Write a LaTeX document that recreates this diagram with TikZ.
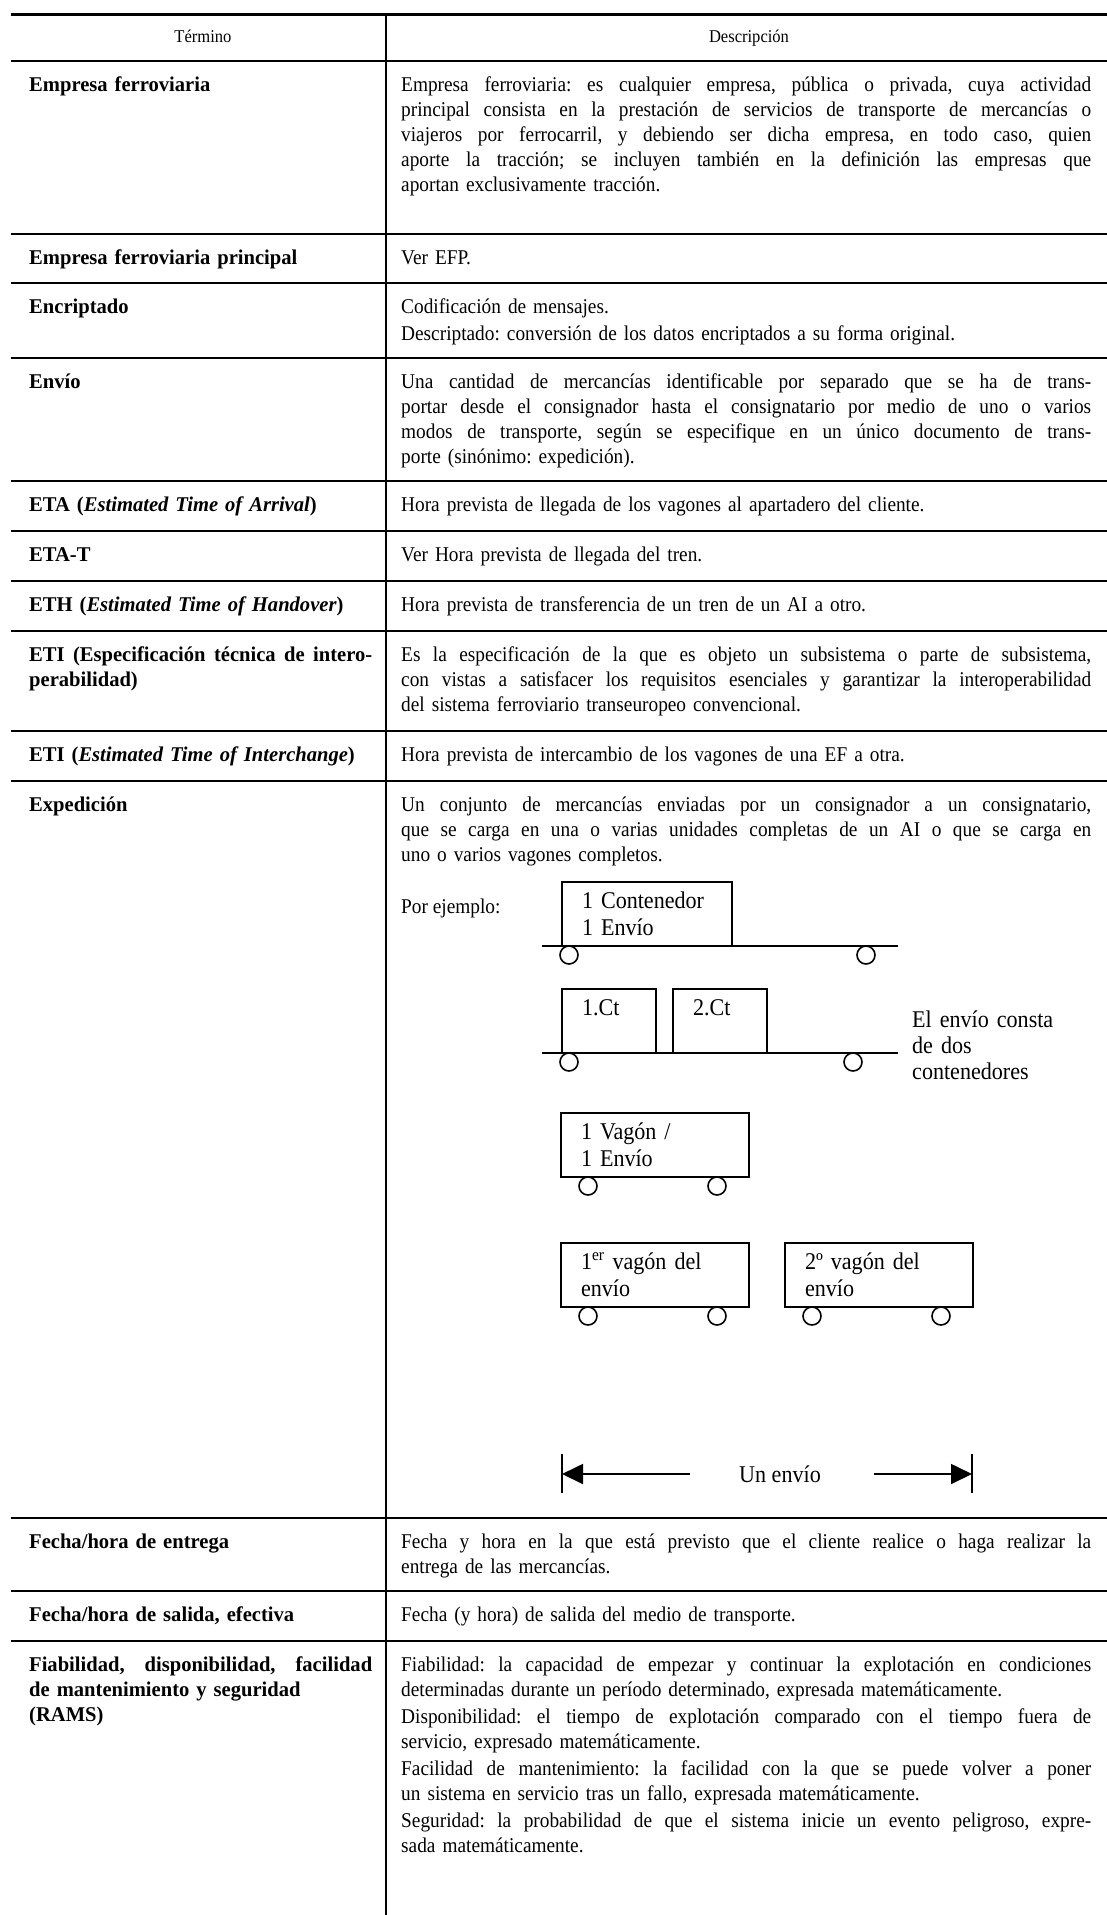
\documentclass[tikz,border=0pt]{standalone}
\usepackage{fontspec}
\setmainfont{Liberation Serif}[FakeStretch=0.92]
\newfontfamily\termfont{Liberation Serif}[FakeStretch=0.98]
\usetikzlibrary{arrows.meta}
\newcommand\JD[1]{\makebox[690pt][s]{\spaceskip=0pt\xspaceskip=0pt #1}}
\newcommand\JT[1]{\makebox[343pt][s]{\spaceskip=0pt\xspaceskip=0pt #1}}
\begin{document}
\frenchspacing
\begin{tikzpicture}[x=1pt,y=-1pt,
  hrule/.style={line width=2.4pt},
  toprule/.style={line width=3pt},
  vrule/.style={line width=2pt},
  term/.style={anchor=base west, inner sep=0pt, text width=343pt, align=left, font=\termfont\bfseries\fontsize{21}{25}\selectfont},
  desc/.style={anchor=base west, inner sep=0pt, text width=690pt, align=left, font=\fontsize{21}{25}\selectfont},
  hdr/.style={anchor=base, inner sep=0pt, font=\fontsize{18}{20}\selectfont},
  wagon/.style={draw, line width=1.8pt, inner xsep=20pt, inner ysep=0pt, align=left, minimum height=64pt, font=\fontsize{24}{27}\selectfont},
  wheel/.style={draw, circle, line width=1.6pt, minimum size=18pt, inner sep=0pt},
  plat/.style={line width=1.8pt},
  dtext/.style={anchor=base west, inner sep=0pt, text width=200pt, align=left, font=\fontsize{24}{26}\selectfont},
  arr/.style={line width=1.8pt, -{Triangle[length=21pt,width=20pt]}}
]
\useasboundingbox (0,0) rectangle (1107,1915);
\fill[white] (0,0) rectangle (1107,1915);

% table rules
\draw[toprule] (11,14.5) -- (1107,14.5);
\foreach \yy in {61,234,283,358,481,531,581,631,731,781,1518,1591,1641}
  \draw[hrule] (11,\yy) -- (1107,\yy);
\draw[vrule] (386,14) -- (386,1915);

% header
\node[hdr] (hT) at (203,42) {Término};
\node[hdr] (hD) at (749,42) {Descripción};

% R1
\node[term] (t1) at (29,91) {Empresa ferroviaria};
\node[desc] (d1) at (401,91) {\JD{Empresa ferroviaria: es cualquier empresa, pública o privada, cuya actividad}\\
\JD{principal consista en la prestación de servicios de transporte de mercancías o}\\
\JD{viajeros por ferrocarril, y debiendo ser dicha empresa, en todo caso, quien}\\
\JD{aporte la tracción; se incluyen también en la definición las empresas que}\\
aportan exclusivamente tracción.};

% R2
\node[term] (t2) at (29,264) {Empresa ferroviaria principal};
\node[desc] (d2) at (401,264) {Ver EFP.};

% R3
\node[term] (t3) at (29,313) {Encriptado};
\node[desc] (d3) at (401,313) {Codificación de mensajes.\\[2pt]
Descriptado: conversión de los datos encriptados a su forma original.};

% R4
\node[term] (t4) at (29,388) {Envío};
\node[desc] (d4) at (401,388) {\JD{Una cantidad de mercancías identificable por separado que se ha de trans-}\\
\JD{portar desde el consignador hasta el consignatario por medio de uno o varios}\\
\JD{modos de transporte, según se especifique en un único documento de trans-}\\
porte (sinónimo: expedición).};

% R5
\node[term] (t5) at (29,511) {ETA (\textit{Estimated Time of Arrival})};
\node[desc] (d5) at (401,511) {Hora prevista de llegada de los vagones al apartadero del cliente.};

% R6
\node[term] (t6) at (29,561) {ETA-T};
\node[desc] (d6) at (401,561) {Ver Hora prevista de llegada del tren.};

% R7
\node[term] (t7) at (29,611) {ETH (\textit{Estimated Time of Handover})};
\node[desc] (d7) at (401,611) {Hora prevista de transferencia de un tren de un AI a otro.};

% R8
\node[term] (t8) at (29,661) {\JT{ETI (Especificación técnica de intero-}\\perabilidad)};
\node[desc] (d8) at (401,661) {\JD{Es la especificación de la que es objeto un subsistema o parte de subsistema,}\\
\JD{con vistas a satisfacer los requisitos esenciales y garantizar la interoperabilidad}\\
del sistema ferroviario transeuropeo convencional.};

% R9
\node[term] (t9) at (29,761) {ETI (\textit{Estimated Time of Interchange})};
\node[desc] (d9) at (401,761) {Hora prevista de intercambio de los vagones de una EF a otra.};

% R10
\node[term] (t10) at (29,811) {Expedición};
\node[desc] (d10) at (401,811) {\JD{Un conjunto de mercancías enviadas por un consignador a un consignatario,}\\
\JD{que se carga en una o varias unidades completas de un AI o que se carga en}\\
uno o varios vagones completos.};
\node[anchor=base west, inner sep=0pt, font=\fontsize{21}{25}\selectfont] (pe) at (401,913) {Por ejemplo:};

% diagram: row A
\node[wagon, minimum width=170pt, text width=130pt] (boxA) at (647,914) {1 Contenedor\\1 Envío};
\coordinate (pA1) at (542,946);
\coordinate (pA2) at (898,946);
\draw[plat] (pA1) -- (pA2);
\node[wheel] (wA1) at (569,955) {};
\node[wheel] (wA2) at (866,955) {};

% row B
\node[wagon, minimum width=94pt, text width=54pt] (boxB1) at (609,1021) {1.Ct\\\mbox{}};
\node[wagon, minimum width=94pt, text width=54pt] (boxB2) at (720,1021) {2.Ct\\\mbox{}};
\coordinate (pB1) at (542,1053);
\coordinate (pB2) at (898,1053);
\draw[plat] (pB1) -- (pB2);
\node[wheel] (wB1) at (569,1062) {};
\node[wheel] (wB2) at (853,1062) {};
\node[dtext] (cons) at (912,1027) {El envío consta\\de dos\\contenedores};

% row C
\node[wagon, minimum width=188pt, text width=148pt] (boxC) at (655,1145) {1 Vagón /\\1 Envío};
\node[wheel] (wC1) at (588,1186) {};
\node[wheel] (wC2) at (717,1186) {};

% row D
\node[wagon, minimum width=188pt, text width=148pt] (boxD1) at (655,1275) {1\textsuperscript{er} vagón del\\envío};
\node[wagon, minimum width=188pt, text width=148pt] (boxD2) at (879,1275) {2º vagón del\\envío};
\node[wheel] (wD1) at (588,1316) {};
\node[wheel] (wD2) at (717,1316) {};
\node[wheel] (wD3) at (812,1316) {};
\node[wheel] (wD4) at (941,1316) {};

% span arrow
\coordinate (tkL1) at (562,1454);
\coordinate (tkL2) at (562,1493);
\coordinate (tkR1) at (972,1454);
\coordinate (tkR2) at (972,1493);
\draw[plat] (tkL1) -- (tkL2);
\draw[plat] (tkR1) -- (tkR2);
\node[anchor=base, inner sep=0pt, font=\fontsize{24}{27}\selectfont] (unenv) at (780,1482) {Un envío};
\coordinate (aL) at (690,1474);
\coordinate (aR) at (874,1474);
\coordinate (tipL) at (562,1474);
\coordinate (tipR) at (972,1474);
\draw[arr] (aL) -- (tipL);
\draw[arr] (aR) -- (tipR);

% R11
\node[term] (t11) at (29,1548) {Fecha/hora de entrega};
\node[desc] (d11) at (401,1548) {\JD{Fecha y hora en la que está previsto que el cliente realice o haga realizar la}\\
entrega de las mercancías.};

% R12
\node[term] (t12) at (29,1621) {Fecha/hora de salida, efectiva};
\node[desc] (d12) at (401,1621) {Fecha (y hora) de salida del medio de transporte.};

% R13
\node[term] (t13) at (29,1671) {\JT{Fiabilidad, disponibilidad, facilidad}\\de mantenimiento y seguridad\\(RAMS)};
\node[desc] (d13) at (401,1671) {\JD{Fiabilidad: la capacidad de empezar y continuar la explotación en condiciones}\\
determinadas durante un período determinado, expresada matemáticamente.\\[2pt]
\JD{Disponibilidad: el tiempo de explotación comparado con el tiempo fuera de}\\
servicio, expresado matemáticamente.\\[2pt]
\JD{Facilidad de mantenimiento: la facilidad con la que se puede volver a poner}\\
un sistema en servicio tras un fallo, expresada matemáticamente.\\[2pt]
\JD{Seguridad: la probabilidad de que el sistema inicie un evento peligroso, expre-}\\
sada matemáticamente.};
\end{tikzpicture}
\end{document}
